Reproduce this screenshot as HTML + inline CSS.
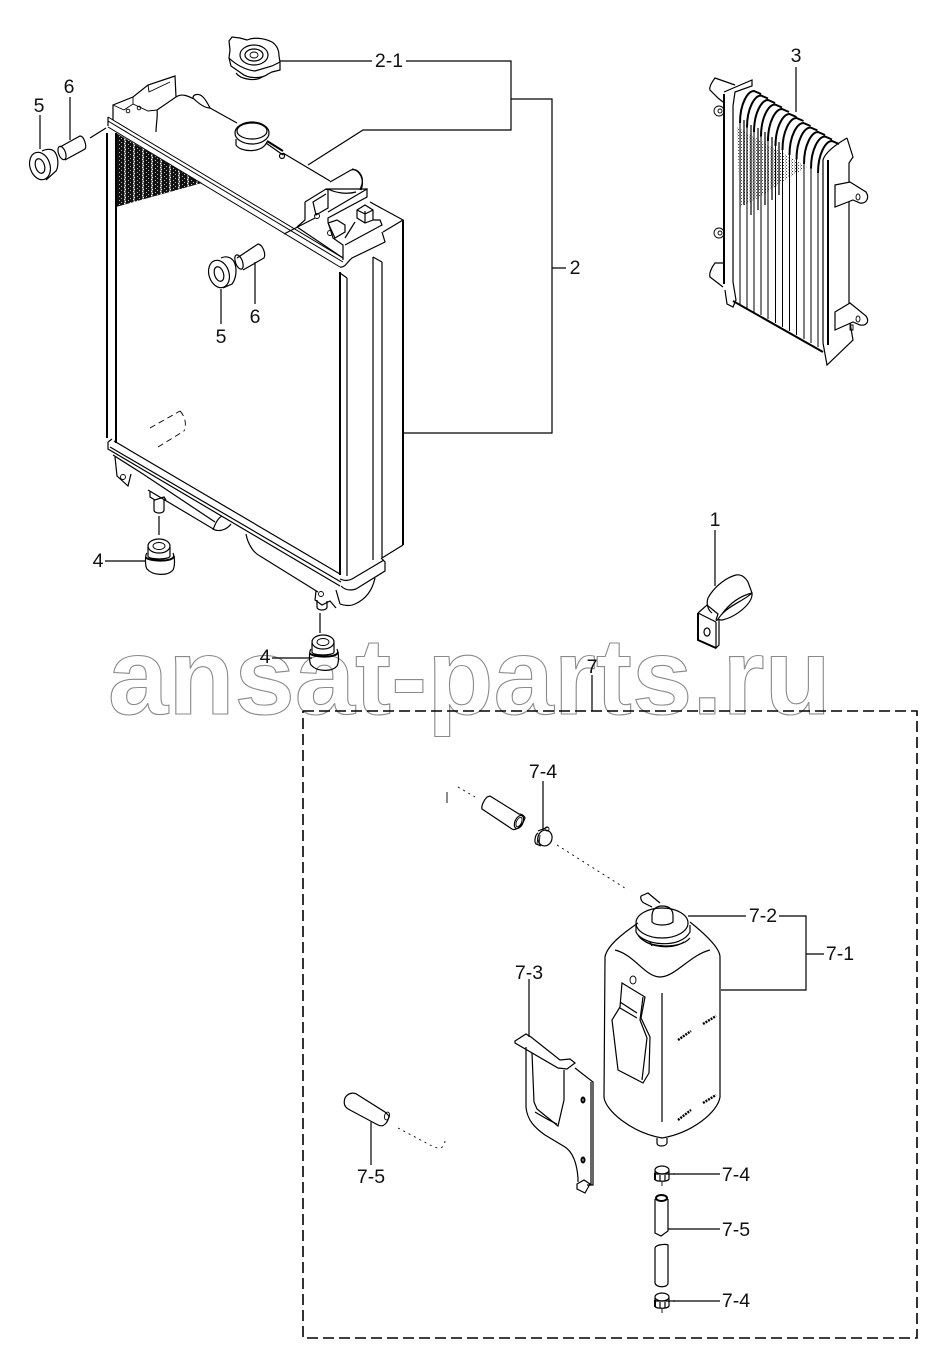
<!DOCTYPE html>
<html><head><meta charset="utf-8"><style>
html,body{margin:0;padding:0;background:#fff}
svg{display:block}
text{font-family:"Liberation Sans",Arial,sans-serif;font-size:19.5px;fill:#111;text-anchor:middle}
.wm{font-size:108.4px;font-weight:bold;fill:none;stroke:#8a8a8a;stroke-width:1.1;text-anchor:start}
.l{fill:none;stroke:#000;stroke-width:1.2}
.t{fill:none;stroke:#000;stroke-width:2}
.n{fill:none;stroke:#000;stroke-width:.9}
.w{fill:#fff;stroke:#000;stroke-width:1.2}
.d{fill:none;stroke:#000;stroke-width:.9;stroke-dasharray:2 4}
</style></head><body>
<svg width="939" height="1368" viewBox="0 0 939 1368" xmlns="http://www.w3.org/2000/svg">
<defs>
<pattern id="hatch" width="9" height="4" patternUnits="userSpaceOnUse">
<rect width="9" height="4" fill="#666"/><rect x="0" width="7" height="4" fill="#111"/>
<rect x="2" y="0" width="1" height="1" fill="#bbb"/><rect x="4" y="2" width="1" height="1" fill="#bbb"/><rect x="8" y="1" width="1" height="1" fill="#fff"/><rect x="7" y="3" width="1" height="1" fill="#fff"/>
</pattern>
<pattern id="dots" width="3" height="3" patternUnits="userSpaceOnUse"><rect width="1" height="1" fill="#444"/><rect x="2" y="1.500" width="1" height="1" fill="#777"/></pattern>
</defs>
<rect width="939" height="1368" fill="#fff"/>
<text class="wm" x="108" y="714">ansat-parts.ru</text>

<!-- Radiator -->
<polygon points="116,133 202,183 116,207" fill="url(#hatch)"/>
<path class="t" d="M107,133V438M116,133V443M340,272V575M403,220V545"/>
<path class="l" d="M347,278V576M373,257V560M382,262V558M340,273L347,278M373,257L382,262M403,545L382,558"/>
<path class="l" d="M370,202L403,220L383,232"/>
<path fill="none" stroke="#000" stroke-width="1" d="M108,117L343,258M108,121L343,262M108,127L340,267"/>
<path class="l" d="M108,117V126M340,267C345,268 347,262 352,258L383,243L385,242L382,232"/>
<path class="l" d="M113,120V105L133,97L148,85L175,76L176,97L157,110C158,116 156,124 156,132"/>
<path class="n" d="M133,97V104L148,111L157,110M148,85L149,92L170,82M113,105L124,110M124,110L133,104"/>
<circle class="n" cx="128" cy="111" r="1.800"/><circle class="n" cx="139" cy="108" r="1.800"/>
<path class="l" d="M176,97C182,93 188,96 194,99"/>
<path class="l" d="M193,98C193,94 199,93 203,97C206,100 208,104 210,108C204,108 197,102 193,98Z"/>
<path class="l" d="M210,108L237,123M266,143L283,155M283,153L330,181"/>
<path class="t" d="M267,141L283,151"/>
<circle class="l" cx="282" cy="156" r="2.500"/>
<ellipse class="w" cx="252" cy="133" rx="17" ry="11"/><ellipse class="l" cx="252" cy="131" rx="15" ry="8"/>
<path class="l" d="M236,139V145C240,152 262,154 267,142"/>
<path class="l" d="M330,182L351,170C358,168 364,176 362,184L360,190"/>
<path class="l" d="M352,169C360,170 365,180 361,190"/>
<path class="l" d="M328,189C334,192 345,195 356,192"/>
<!-- right bracket block -->
<path class="l" d="M305,202L326,189L328,190V208L316,215L313,202L326,194M305,202V220L297,227M297,227L343,258"/>
<path class="l" d="M326,189L367,189M328,212L367,189V197L328,218V222L333,238L343,245V260"/>
<path class="l" d="M328,223L337,220L345,225V232L335,238L328,223M345,245L382,225L380,220H373M345,238L355,222"/>
<path class="l" d="M357,210L365,205L373,210V220L365,223L357,218ZM365,211V223M357,210L365,214L373,210"/>
<circle class="n" cx="317" cy="216" r="2.500"/><circle class="n" cx="330" cy="233" r="2.500"/>
<path class="l" d="M284,234L315,218"/>
<!-- dashed oval in radiator -->
<path class="n" stroke-dasharray="6 4" d="M150,428L180,411M158,447L184,431M180,411C185,416 187,425 184,431"/>
<!-- bottom rail -->
<path class="l" d="M108,442V449L340,586M110,447L341,582M114,441L340,574M108,442L112,439"/>
<path class="l" d="M341,586C345,590 350,591 356,589L385,571V562L381,558M340,579C344,581 348,581 352,579L384,560"/>
<path class="l" d="M115,457L117,476L128,486L131,474M113,455L143,474L215,522"/>
<circle class="n" cx="123" cy="477" r="2.500"/>
<path class="l" d="M148,490L215,530C222,532 228,528 231,524M213,530C215,524 218,518 222,516"/>
<path class="l" d="M246,534C248,545 254,553 260,556L318,592M316,591L315,600L322,605L330,601L336,608"/>
<circle class="n" cx="321" cy="594" r="2.500"/>
<path class="l" d="M340,604C345,606 351,606 355,604C364,600 372,592 375,578M336,590L340,604"/>
<path class="l" d="M150,491V497L155,500L164,497L166,500M154,500V510C154,514 164,514 164,510V499"/>
<path class="l" d="M317,600V607C317,611 327,611 327,607V601"/>
<!-- grommet 4 -->
<g>
<ellipse class="l" cx="159" cy="546" rx="11" ry="7"/><ellipse class="n" cx="159" cy="546" rx="6" ry="3.500"/>
<path class="l" d="M148,547V556C148,560 170,560 170,556V547"/>
<path class="t" d="M146,557C146,561 173,563 174,556"/>
<path class="l" d="M147,553C145,555 145,566 147,569C153,576 168,576 173,570C175,566 175,558 173,553"/>
</g>
<g transform="translate(164,96)">
<ellipse class="l" cx="159" cy="546" rx="11" ry="7"/><ellipse class="n" cx="159" cy="546" rx="6" ry="3.500"/>
<path class="l" d="M148,547V556C148,560 170,560 170,556V547"/>
<path class="t" d="M146,557C146,561 173,563 174,556"/>
<path class="l" d="M147,553C145,555 145,566 147,569C153,576 168,576 173,570C175,566 175,558 173,553"/>
</g>
<!-- cap 2-1 -->
<path class="l" d="M229,41L232,37L240,38L247,40C254,37 264,38 272,42C278,46 279,52 279,56L280,62V70L272,72L268,74C262,79 248,79 241,73L231,66L229,58L230,50Z"/>
<path class="l" d="M229,58C235,64 245,70 255,71L272,66L280,62M236,73C240,79 255,82 262,77"/>
<ellipse class="l" cx="254" cy="55" rx="14" ry="10"/><ellipse class="l" cx="254" cy="55" rx="9" ry="6"/><ellipse class="n" cx="254" cy="55" rx="4" ry="3"/>
<!-- bushings 5/6 top-left -->
<path class="l" d="M60,147L80,136C84,136 87,146 85,149L65,160"/>
<ellipse class="l" cx="62" cy="153" rx="3.500" ry="7" transform="rotate(-20 62 153)"/>
<path class="l" d="M42,151C48,148 54,149 56,154C59,160 58,168 56,171L46,180"/>
<ellipse class="l" cx="40" cy="166" rx="10" ry="14" transform="rotate(-18 40 166)"/>
<ellipse class="l" cx="40" cy="166" rx="4.500" ry="7.500" transform="rotate(-18 40 166)"/>
<path class="l" d="M90,138L106,128"/>
<!-- bushings 5/6 center -->
<path class="l" d="M237,258L258,244C263,245 266,254 264,258L243,270"/>
<ellipse class="l" cx="239" cy="262" rx="3.500" ry="7.500" transform="rotate(-20 239 262)"/>
<path class="l" d="M221,258C227,255 233,258 235,264C237,270 236,279 232,284L223,288"/>
<ellipse class="l" cx="219" cy="274" rx="10" ry="14" transform="rotate(-18 219 274)"/>
<ellipse class="l" cx="219" cy="274" rx="4.500" ry="7.500" transform="rotate(-18 219 274)"/>

<!-- Leaders -->
<path class="l" d="M280,61H372M406,61H511V130H363L308,165M511,99H552V433H403M552,268H566"/>
<path class="l" d="M796,67V112M40,115V149M70,97V140M221,289V324M255,262V304M105,561H146M159,516V535M320,613V633M272,658H312"/>
<path class="l" d="M715,530V586M592,675V711"/>

<!-- Oil cooler 3 -->
<polygon points="737,127 807,167 785,180 760,197 745,205 740,207" fill="url(#dots)"/>
<path class="l" d="M735,85L715,78C712,82 709,87 710,90L718,98L723,102"/>
<path class="l" d="M723,263H715C711,268 709,274 710,277L723,287"/>
<circle class="n" cx="719" cy="111" r="5"/><circle class="n" cx="719" cy="233" r="5"/>
<circle class="n" cx="720" cy="111" r="2"/><circle class="n" cx="720" cy="233" r="2"/>
<path class="t" d="M724,94V284"/>
<path class="l" d="M724,92L752,80L752,86L735,92L733,106V282L736,300L733,307L727,304L725,290"/>
<path d="M740,123C740,103 748,91 754,91L761,94 M747,127.500C747,107.500 755,95.500 761,95.500L768,98.500 M754,132C754,112 762,100 768,100L775,103 M761,136.500C761,116.500 769,104.500 775,104.500L782,107.500 M768,141C768,121 776,109 782,109L789,112 M775.500,146C775.500,126 783.500,114 789.500,114L796.500,117 M782.500,150C782.500,130 790.500,118 796.500,118L803.500,121 M789.500,155C789.500,135 797.500,123 803.500,123L810.500,126 M796.500,159.500C796.500,139.500 804.500,127.500 810.500,127.500L817.500,130.500 M804,164C804,144 812,132 818,132L825,135 M811,168.500C811,148.500 819,136.500 825,136.500L832,139.500 M818,173C818,153 826,141 832,141L839,144" fill="none" stroke="#000" stroke-width="2"/>
<path d="M740,123V304M747,127V308M754,132V312M761,136V315M768,141V319M775.500,146V323M782.500,150V327M789.500,155V331M796.500,159V335M804,164V339M811,168V343M818,173V347" fill="none" stroke="#000" stroke-width="1"/>
<path d="M751,125V215M758,128V210M765,132V205M772,137V200M779,142V195M744,120V205" fill="none" stroke="#000" stroke-width="1.200"/>
<path class="t" d="M733,301L823,352M828,160V345"/>
<path class="l" d="M847,138L853,157L849,163V317L853,340L827,365L823,343V175L823,160C825,153 835,145 847,138"/>
<path class="w" d="M835,185L850,182L866,192C870,198 866,204 860,203L853,200L835,207Z"/>
<ellipse class="n" cx="858" cy="197" rx="2" ry="3"/>
<path class="w" d="M835,312L850,303L866,316C870,322 866,326 860,325L853,322L835,330Z"/>
<ellipse class="n" cx="858" cy="319" rx="2" ry="3"/>
<path class="n" d="M850,325H853V330H850Z"/>

<!-- Part 1 -->
<path class="l" d="M708,598C715,585 728,577 736,575C741,574 745,577 748,582L752,593C745,600 730,605 722,614C719,617 717,622 716,620"/>
<path class="l" d="M708,598C706,604 708,610 712,613"/>
<path class="l" d="M752,593C753,602 741,612 731,617C724,620 720,621 718,619"/>
<path class="l" d="M722,614C730,603 740,596 752,593"/>
<path class="t" d="M698,613V640L716,648"/>
<path class="l" d="M698,613L707,605L718,614L716,620M716,622V648L719,645V620M698,613L716,622"/>
<ellipse class="l" cx="707" cy="632" rx="3" ry="4"/>

<!-- 7 dashed box -->
<path fill="none" stroke="#000" stroke-width="1.600" stroke-dasharray="11 5" d="M303,711H917V1338H303V711"/>

<!-- hose upper -->
<path class="l" d="M487,797C484,800 481,806 482,809L512,829C517,832 524,822 525,818C524,815 521,814 519,814L490,796Z"/>
<ellipse class="l" cx="519" cy="822" rx="4" ry="7" transform="rotate(25 519 822)"/>
<ellipse class="n" cx="519" cy="822" rx="2.500" ry="5" transform="rotate(25 519 822)"/>
<path class="d" d="M458,787L475,797"/><path class="n" d="M447,792V803"/>
<!-- clamp top -->
<path class="l" d="M543,781V830"/>
<ellipse class="l" cx="545" cy="838" rx="7" ry="8" transform="rotate(15 545 838)"/>
<path class="l" d="M538,833C535,835 534,842 536,844L541,846M538,831L548,827"/>
<circle class="n" cx="547" cy="829" r="2"/>
<path class="n" d="M538,836L537,844M540,835L539,845"/>
<path class="d" d="M557,845L628,890"/>
<!-- tank -->
<path class="l" d="M638,923C625,932 607,945 605,957L604,1097C605,1110 630,1132 662,1138C692,1133 718,1112 720,1097V957C720,947 700,930 690,922"/>
<path class="l" d="M615,950C635,955 645,977 660,977C675,977 690,955 710,950M662,993V1122"/>
<path fill="none" stroke="#000" stroke-width="2.400" stroke-dasharray="2 1" d="M678,1040L691,1031M703,1024L716,1016M678,1120L691,1110M703,1103L716,1095"/>
<ellipse class="l" cx="662" cy="923" rx="26" ry="15"/>
<path class="l" d="M636,925V932C642,945 680,950 690,932V925M638,935C645,948 680,950 690,938M642,939C650,947 672,950 684,942M650,942L652,946"/>
<path class="l" d="M652,916C652,908 658,906 662,906C668,906 673,908 673,916V922C668,926 656,926 652,922Z"/>
<path class="l" d="M641,896L648,893L660,903M644,903L652,907M641,896C640,899 642,902 644,903"/>
<path class="l" d="M622,983L645,997L641,1018L650,1037L649,1073L643,1083L618,1070L612,1020L620,1007Z"/>
<path class="l" d="M643,997L640,1020L647,1038L642,1080M620,1002L637,1013M620,1008L637,1018"/>
<ellipse class="n" cx="633" cy="980" rx="3" ry="4"/>
<path class="l" d="M657,1138V1143C657,1147 666,1147 667,1143V1138"/>
<!-- bracket -->
<path class="l" d="M529,979V1037"/>
<path class="l" d="M515,1041L526,1034L531,1037L560,1060L570,1059L575,1063L567,1069L558,1068L515,1043Z"/>
<path class="l" d="M526,1047V1107C527,1120 535,1128 545,1135L565,1147C574,1153 577,1165 578,1178V1182"/>
<path class="l" d="M532,1053L534,1102L537,1109L558,1126L564,1100V1070"/>
<path class="l" d="M535,1112C545,1118 552,1122 557,1124"/>
<path class="l" d="M575,1068L593,1082V1185L587,1185M591,1082V1185"/>
<path class="l" d="M577,1184L584,1180L590,1184L585,1193L577,1189Z"/>
<ellipse class="t" cx="583" cy="1100" rx="1.500" ry="2.500"/><ellipse class="t" cx="583" cy="1160" rx="1.500" ry="2.500"/>
<!-- hose lower-left -->
<path class="l" d="M345,1098C343,1104 345,1108 350,1110L378,1125C384,1128 388,1122 389,1116L385,1112L358,1095C353,1091 347,1094 345,1098Z"/>
<ellipse class="n" cx="387" cy="1116" rx="2.500" ry="4" transform="rotate(15 387 1116)"/>
<path class="l" d="M371,1122V1165"/>
<path class="d" d="M398,1128L432,1146C440,1150 444,1148 445,1141"/>
<!-- tubes and clamps -->
<path class="l" d="M655,1199V1233L661,1236L668,1231V1199"/>
<ellipse class="t" cx="661.500" cy="1198" rx="5.500" ry="3"/>
<path class="l" d="M655,1248C656,1244 667,1244 668,1245V1283C668,1288 656,1288 655,1283Z"/>
<g>
<ellipse class="l" cx="662" cy="1170" rx="7" ry="4"/>
<path class="l" d="M655,1171V1179C655,1182 668,1182 669,1179V1171M655,1174H670M660,1175V1181M665,1175V1181M669,1174L675,1174"/>
<path class="t" d="M655,1173V1180"/>
<path class="n" d="M662,1182V1186"/>
</g>
<g transform="translate(0,127)">
<ellipse class="l" cx="662" cy="1170" rx="7" ry="4"/>
<path class="l" d="M655,1171V1179C655,1182 668,1182 669,1179V1171M655,1174H670M660,1175V1181M665,1175V1181M669,1174L675,1174"/>
<path class="t" d="M655,1173V1180"/>
<path class="n" d="M662,1182V1186"/>
</g>
<path class="l" d="M673,1174H720M668,1229H720M673,1301H720M688,916H746M779,916H806V990H721M806,954H824"/>

<!-- Labels -->
<text x="389" y="67">2-1</text>
<text x="575" y="274">2</text>
<text x="796" y="62">3</text>
<text x="39" y="112">5</text>
<text x="69" y="93">6</text>
<text x="221" y="343">5</text>
<text x="255" y="323">6</text>
<text x="98" y="567">4</text>
<text x="265" y="663">4</text>
<text x="715" y="526">1</text>
<text x="592" y="673">7</text>
<text x="543" y="778">7-4</text>
<text x="763" y="922">7-2</text>
<text x="840" y="960">7-1</text>
<text x="529" y="979">7-3</text>
<text x="371" y="1183">7-5</text>
<text x="736" y="1181">7-4</text>
<text x="736" y="1236">7-5</text>
<text x="736" y="1307">7-4</text>
</svg>
</body></html>
